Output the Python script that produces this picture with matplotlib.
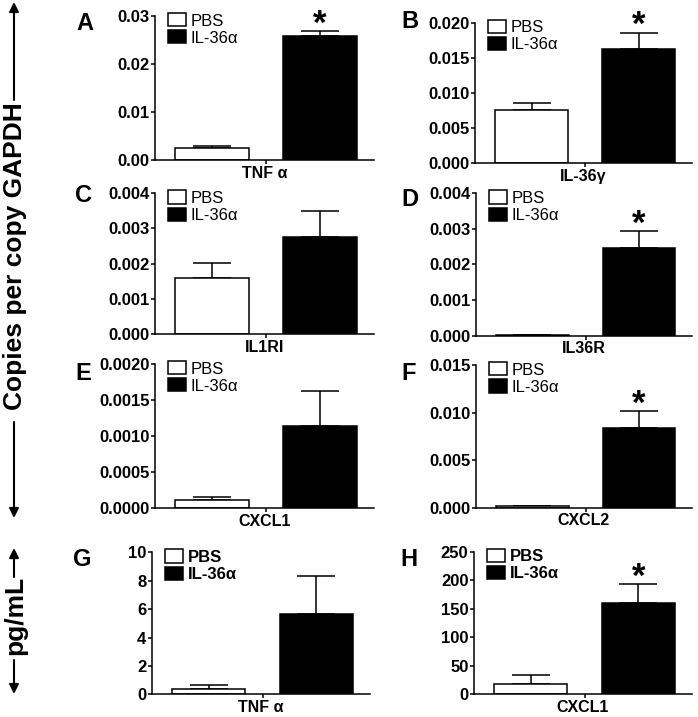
import matplotlib
matplotlib.use("Agg")
import matplotlib.pyplot as plt
from matplotlib.patches import FancyArrowPatch, Patch
from matplotlib.ticker import FormatStrFormatter

plt.rcParams['font.family'] = ['Liberation Sans', 'DejaVu Sans']

# ---------------- data ----------------
panel_letters = ['A', 'B', 'C', 'D', 'E', 'F', 'G', 'H']
x_labels = ['TNF α', 'IL-36γ', 'IL1RI', 'IL36R', 'CXCL1', 'CXCL2', 'TNF α', 'CXCL1']
groups = ['PBS', 'IL-36α']
pbs_mean = [0.0024, 0.0076, 0.0016, 0.00001, 0.00011, 0.0002, 0.35, 17]
pbs_err = [0.0005, 0.0010, 0.00043, 0.0, 0.00005, 0.00003, 0.32, 16]
il36_mean = [0.0258, 0.0162, 0.00275, 0.00245, 0.00114, 0.0084, 5.65, 160]
il36_err = [0.0011, 0.0024, 0.00075, 0.00048, 0.00048, 0.0018, 2.7, 33]
significant = [True, True, False, True, False, True, False, True]
y_max = [0.03, 0.020, 0.004, 0.004, 0.0020, 0.015, 10, 250]
y_step = [0.01, 0.005, 0.001, 0.001, 0.0005, 0.005, 2, 50]
y_fmt = ['%.2f', '%.3f', '%.3f', '%.3f', '%.4f', '%.3f', '%d', '%d']
y_axis_titles = ['Copies per copy GAPDH', 'pg/mL']

# ---------------- layout (pixels) ----------------
W, H = 698, 717
boxes = [
    (155, 16, 374, 160), (475, 22.7, 692, 163.3),
    (155, 193.3, 374, 334), (476, 193.3, 692, 335.7),
    (155, 364, 374, 508.3), (476, 365, 692, 507.7),
    (152, 552.3, 370, 694.3), (474, 551.7, 692, 694),
]
letter_pos = [(85, 23), (410, 21), (84, 195), (410, 200),
              (83, 374), (409, 374), (82, 560), (409, 560)]

fig = plt.figure(figsize=(W / 100, H / 100), dpi=100)
fig.patch.set_facecolor('white')

lw = 1.1
for i in range(8):
    l, t, r, b = boxes[i]
    ax = fig.add_axes([l / W, 1 - b / H, (r - l) / W, (b - t) / H])
    xs = [0, 1]
    means = [pbs_mean[i], il36_mean[i]]
    errs = [pbs_err[i], il36_err[i]]
    ax.errorbar(xs, means, yerr=[[0, 0], errs], fmt='none', ecolor='black',
                elinewidth=lw, capsize=14, capthick=lw, zorder=1)
    ax.bar(xs, means, width=0.68, color=['white', 'black'],
           edgecolor='black', linewidth=lw, zorder=2)
    ax.set_xlim(-0.53, 1.5)
    ax.set_ylim(0, y_max[i])
    n = int(round(y_max[i] / y_step[i]))
    ax.set_yticks([k * y_step[i] for k in range(n + 1)])
    ax.yaxis.set_major_formatter(FormatStrFormatter(y_fmt[i]))
    ax.set_xticks([0.5])
    ax.set_xticklabels([''])
    ax.set_xlabel(x_labels[i], fontsize=11.5, fontweight='bold', labelpad=0)
    for s in ['top', 'right']:
        ax.spines[s].set_visible(False)
    for s in ['left', 'bottom']:
        ax.spines[s].set_linewidth(lw)
    ax.tick_params(axis='both', direction='out', length=3, width=lw,
                   labelsize=12, pad=1)
    for lab in ax.get_yticklabels():
        lab.set_fontweight('bold')
    if significant[i]:
        ax.annotate('*', xy=(1, il36_mean[i] + il36_err[i]), xytext=(0, -7),
                    textcoords='offset points', ha='center', va='bottom',
                    fontsize=25, fontweight='bold')
    handles = [Patch(facecolor='white', edgecolor='black', linewidth=lw),
               Patch(facecolor='black', edgecolor='black', linewidth=lw)]
    bold = i >= 6
    ax.legend(handles, groups, loc='upper left', bbox_to_anchor=(0.06, 1.02),
              frameon=False, handlelength=1.1, handleheight=0.85,
              handletextpad=0.25, labelspacing=0.1, borderpad=0, borderaxespad=0,
              prop={'size': 12, 'weight': 'bold' if bold else 'normal'})
    lx, ly = letter_pos[i]
    fig.text(lx / W, 1 - ly / H, panel_letters[i], fontsize=17, fontweight='bold',
             ha='center', va='center')

# ---------------- outer axis titles with arrows ----------------
def fy(y):
    return 1 - y / H

ax_x = 14 / W
for (y0, y1) in [(100, 2), (422, 518), (577, 548), (660, 694)]:
    fig.add_artist(FancyArrowPatch((ax_x, fy(y0)), (ax_x, fy(y1)),
                                   transform=fig.transFigure, arrowstyle='-|>',
                                   mutation_scale=14, lw=1.5, color='black',
                                   shrinkA=0, shrinkB=0))
fig.text(15 / W, fy(256), y_axis_titles[0], rotation=90, fontsize=19,
         fontweight='bold', ha='center', va='center')
fig.text(15 / W, fy(615), y_axis_titles[1], rotation=90, fontsize=19,
         fontweight='bold', ha='center', va='center')

fig.savefig('out.png', dpi=100, facecolor='white')
